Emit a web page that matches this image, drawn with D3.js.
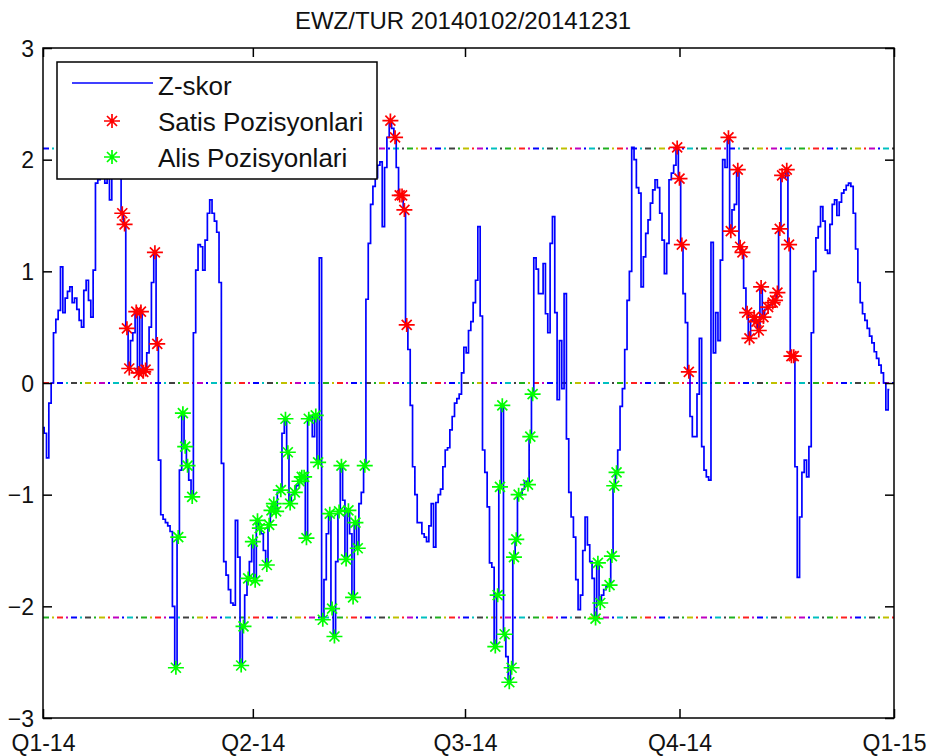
<!DOCTYPE html>
<html>
<head>
<meta charset="utf-8">
<script src="https://cdn.jsdelivr.net/npm/d3@7"></script>
<style>
body { margin: 0; background: #fff; }
text { font-family: "Liberation Sans", Arial, sans-serif; fill: #111; }
</style>
</head>
<body>
<svg id="chart" width="932" height="756"></svg>
<script>
// z-score, one value per calendar day starting at startDate
const startDate = "2014-01-01"
const endDate = "2015-01-01"
const zValues = [
    -0.40,-0.45,-0.67,-0.18,0.00,0.45,0.57,0.65,1.04,0.63,
    0.76,0.82,0.86,0.72,0.76,0.66,0.56,0.50,0.83,0.92,
    0.74,0.59,1.01,1.79,1.82,1.87,1.89,1.79,1.84,1.64,
    1.90,2.00,1.95,1.85,1.52,1.42,0.49,0.13,0.38,0.45,
    0.64,0.09,0.64,0.10,0.12,0.27,0.50,0.90,1.17,0.35,
    -0.69,-1.18,-1.22,-1.25,-1.28,-1.33,-2.00,-2.55,-1.38,-0.78,
    -0.27,-0.57,-0.74,-0.87,-1.02,0.45,1.01,1.24,1.22,1.01,
    1.28,1.52,1.64,1.52,1.45,1.35,0.90,-0.72,-1.60,-1.72,
    -1.85,-1.97,-1.99,-1.23,-1.56,-2.53,-2.18,-1.90,-1.75,-1.60,
    -1.42,-1.77,-1.23,-1.30,-1.35,-1.50,-1.63,-1.27,-1.14,-1.08,
    -1.15,-0.98,-0.96,-0.45,-0.32,-0.62,-1.08,-1.00,-0.98,-0.92,
    -0.88,-0.84,-0.84,-1.39,-0.32,-0.30,-0.48,-0.29,-0.71,1.12,
    -2.12,-1.76,-1.35,-1.17,-2.02,-2.27,-1.60,-1.15,-0.74,-1.05,
    -1.58,-1.14,-1.35,-1.92,-1.25,-1.48,-1.08,-0.98,-0.74,0.75,
    1.25,1.60,1.76,1.84,1.95,1.98,1.40,1.93,2.20,2.35,
    2.28,2.20,1.93,1.68,1.68,1.55,0.52,0.30,-0.20,-0.75,
    -1.00,-1.25,-1.25,-1.35,-1.38,-1.42,-1.28,-1.08,-1.47,-1.07,
    -1.00,-0.95,-0.75,-0.60,-0.58,-0.42,-0.30,-0.18,-0.14,-0.10,
    0.09,0.32,0.27,0.47,0.55,0.72,0.92,1.40,0.60,-0.60,
    -0.80,-1.11,-1.61,-1.65,-2.36,-1.90,-0.93,-0.20,-2.25,-2.45,
    -2.68,-2.55,-1.56,-1.40,-1.00,-1.00,-0.95,-0.88,-0.91,-0.48,
    -0.10,1.12,1.02,0.80,0.80,1.07,0.62,0.45,1.25,1.49,
    0.63,-0.15,0.38,-0.05,0.80,-0.50,-0.98,-1.20,-1.38,-1.76,
    -2.03,-1.90,-1.50,-1.20,-1.45,-1.60,-1.75,-2.11,-1.61,-1.97,
    -1.90,-1.85,-1.82,-1.81,-1.55,-0.92,-0.80,-0.60,-0.21,-0.05,
    0.30,0.74,1.00,2.11,2.00,1.75,1.70,0.86,1.13,1.34,
    1.46,1.61,1.73,1.82,1.75,1.52,1.28,0.98,1.25,1.82,
    1.88,1.95,2.11,1.83,1.24,0.80,0.54,0.10,-0.30,-0.48,
    -0.48,-0.10,0.40,-0.57,-0.78,-0.84,-0.87,1.26,0.27,0.63,
    0.38,1.10,2.00,1.93,2.20,1.36,1.55,1.60,1.91,1.22,
    1.17,0.85,0.63,0.40,0.56,0.59,0.55,0.47,0.86,0.59,
    0.66,0.68,0.70,0.72,0.74,0.81,1.38,1.86,1.84,1.91,
    1.24,0.24,0.24,-0.75,-1.74,-1.20,-0.80,-0.69,-0.84,-0.57,
    0.45,1.00,1.30,1.40,1.58,1.45,1.19,1.16,1.42,1.60,
    1.64,1.50,1.62,1.70,1.73,1.77,1.79,1.76,1.52,1.20,
    0.90,0.72,0.62,0.56,0.49,0.42,0.36,0.28,0.22,0.16,
    0.09,0.00,-0.24,-0.06
]

// days (index into zValues) where a position was opened
const sellDays = [34,35,36,37,40,41,42,43,44,48,49,
    149,151,153,154,155,156,
    272,273,274,277,294,295,298,299,300,302,303,305,306,307,308,309,
    311,313,314,315,316,317,319,320,321,322]
const buyDays = [57,58,60,61,62,64,
    85,86,88,90,91,92,93,96,97,98,99,100,102,104,105,106,108,110,111,112,
    113,114,117,118,120,123,124,125,127,128,130,131,133,134,135,138,
    194,195,196,197,198,200,201,202,203,204,208,209,210,
    237,238,239,243,244,245,246]

const thresholdLevels = [2.1, 0, -2.1]
const yTicks = [-3,-2,-1,0,1,2,3]
const xTickDates = ["2014-01-01","2014-04-01","2014-07-01","2014-10-01","2015-01-01"]
const xTickLabels = ["Q1-14","Q2-14","Q3-14","Q4-14","Q1-15"]
const legendLabels = ["Z-skor","Satis Pozisyonlari","Alis Pozisyonlari"]
const titleText = "EWZ/TUR 20140102/20141231"

const parseDate = d3.timeParse("%Y-%m-%d")
const start = parseDate(startDate)
const dayDate = i => d3.timeDay.offset(start, i)

const plotLeft = 43, plotRight = 894, plotTop = 48, plotBottom = 718

let svg = d3.select("#chart")
svg.append("rect").attr("width",932).attr("height",756).attr("fill","#fff")

let x = d3.scaleTime()
    .domain([start, parseDate(endDate)])
    .range([plotLeft, plotRight])
let y = d3.scaleLinear()
    .domain([-3,3])
    .range([plotBottom, plotTop])

// title
svg.append("text")
    .attr("x", 463)
    .attr("y", 29)
    .attr("text-anchor","middle")
    .style("font-size","24px")
    .text(titleText)

// dash-dot threshold lines, each mark in a different colour like the matlab render
let dashColors = ["#0000ff","#ff2020","#20b020","#00c0c0","#c000c0","#c0c000","#404040"]
let thresholdGroup = svg.append("g")
thresholdLevels.forEach(function(level, li){
    var k = 0
    var px = plotLeft
    while(px < plotRight){
        var len = (k % 2 == 0) ? 6 : 2
        thresholdGroup.append("line")
            .attr("x1", px)
            .attr("x2", Math.min(px+len, plotRight))
            .attr("y1", y(level))
            .attr("y2", y(level))
            .attr("stroke", dashColors[(k*3 + li) % dashColors.length])
            .attr("stroke-width", 2)
        px += len + 3
        k++
    }
})

// z-score line (stepped, the way the daily series renders at this size)
let line = d3.line()
    .x((d,i) => x(dayDate(i)))
    .y(d => y(d))
    .curve(d3.curveStep)

svg.append("path")
    .datum(zValues)
    .attr("d", line)
    .attr("fill","none")
    .attr("stroke","#0000ff")
    .attr("stroke-width",1.7)

// matlab '*' marker
let starPath = "M-8,0H8M0,-7V7M-5,-5L5,5M-5,5L5,-5"

function drawStars(days, color){
    svg.append("g")
        .selectAll("path")
        .data(days)
        .enter()
        .append("path")
        .attr("transform", d => "translate(" + x(dayDate(d)) + "," + y(zValues[d]) + ")")
        .attr("d", starPath)
        .attr("fill","none")
        .attr("stroke", color)
        .attr("stroke-width",1.7)
}
drawStars(sellDays, "#ff0000")
drawStars(buyDays, "#00ff00")

// axes, ticks pointing inward
let leftAxis = svg.append("g")
    .attr("transform","translate(" + plotLeft + ",0)")
    .call(d3.axisLeft(y).tickValues(yTicks).tickSize(-9).tickPadding(9).tickFormat(d3.format("d")))
svg.append("g")
    .attr("transform","translate(" + plotRight + ",0)")
    .call(d3.axisRight(y).tickValues(yTicks).tickSize(-9).tickFormat(""))
let bottomAxis = svg.append("g")
    .attr("transform","translate(0," + plotBottom + ")")
    .call(d3.axisBottom(x).tickValues(xTickDates.map(parseDate)).tickSize(-9).tickPadding(17)
        .tickFormat((d,i) => xTickLabels[i]))
svg.append("g")
    .attr("transform","translate(0," + plotTop + ")")
    .call(d3.axisTop(x).tickValues(xTickDates.map(parseDate)).tickSize(-9).tickFormat(""))

svg.selectAll(".domain").remove()
svg.selectAll(".tick line").attr("stroke","#000").attr("stroke-width",1.5)
svg.selectAll(".tick text")
    .style("font-size","23px")
    .style("font-family",'"Liberation Sans", Arial, sans-serif')
    .attr("fill","#111")
leftAxis.selectAll(".tick text").attr("dy","0.36em")

// legend
let legend = svg.append("g")
legend.append("rect")
    .attr("x",57)
    .attr("y",62)
    .attr("width",320)
    .attr("height",117)
    .attr("fill","#fff")
    .attr("stroke","#000")
    .attr("stroke-width",1.5)

let legendRows = [83, 121, 157]
legend.append("line")
    .attr("x1",72).attr("x2",153)
    .attr("y1",legendRows[0]).attr("y2",legendRows[0])
    .attr("stroke","#0000ff")
    .attr("stroke-width",1.7)
legend.append("path")
    .attr("transform","translate(112," + legendRows[1] + ")")
    .attr("d",starPath).attr("fill","none").attr("stroke","#ff0000").attr("stroke-width",1.7)
legend.append("path")
    .attr("transform","translate(112," + legendRows[2] + ")")
    .attr("d",starPath).attr("fill","none").attr("stroke","#00ff00").attr("stroke-width",1.7)

legend.selectAll("text")
    .data(legendLabels)
    .enter()
    .append("text")
    .attr("x",158)
    .attr("y",(d,i) => [95, 131, 167][i])
    .style("font-size","26px")
    .text(d => d)

// plot box
svg.append("rect")
    .attr("x",plotLeft)
    .attr("y",plotTop)
    .attr("width",plotRight-plotLeft)
    .attr("height",plotBottom-plotTop)
    .attr("fill","none")
    .attr("stroke","#000")
    .attr("stroke-width",1.5)
</script>
</body>
</html>
